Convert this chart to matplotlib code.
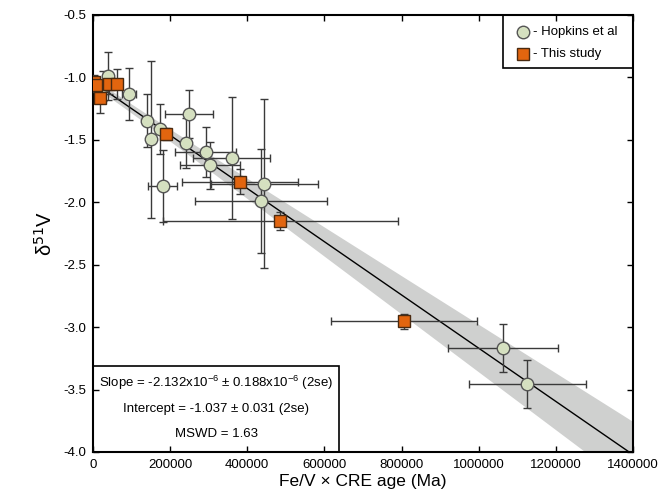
import numpy as np
import matplotlib.pyplot as plt

plt.rcParams['font.family'] = ['Liberation Sans', 'DejaVu Sans']

# Hopkins et al data: x (Fe/V x CRE age), x error, d51V, y error
hop_x = [39700, 26700, 93300, 139000, 149500, 173700, 180700, 248000, 240000,
         292000, 304000, 360000, 444000, 435500, 1063000, 1126000]
hop_xerr = [0, 0, 17000, 0, 0, 0, 37000, 62000, 0,
            80000, 78000, 100000, 138000, 172000, 143000, 151000]
hop_y = [-0.99, -1.07, -1.135, -1.346, -1.495, -1.415, -1.869, -1.293, -1.527,
         -1.594, -1.704, -1.645, -1.85, -1.99, -3.166, -3.454]
hop_yerr = [0.19, 0.12, 0.21, 0.21, 0.63, 0.2, 0.29, 0.19, 0.2,
            0.2, 0.19, 0.49, 0.68, 0.42, 0.19, 0.19]

# This study
ts_x = [3000, 8000, 17000, 41500, 63000, 190000, 382000, 485600, 806000]
ts_xerr = [0, 0, 0, 0, 0, 8000, 150000, 305000, 190000]
ts_y = [-1.04, -1.065, -1.167, -1.055, -1.052, -1.453, -1.835, -2.149, -2.953]
ts_yerr = [0.06, 0.05, 0.12, 0.08, 0.12, 0.05, 0.1, 0.07, 0.06]

# regression
slope = -2.132e-6
slope_err = 0.188e-6
intercept = -1.037
intercept_err = 0.031

xticks = [0, 200000, 400000, 600000, 800000, 1000000, 1200000, 1400000]
yticks = [-4.0, -3.5, -3.0, -2.5, -2.0, -1.5, -1.0, -0.5]

fig = plt.figure(figsize=(6.61, 4.98), dpi=100)
ax = fig.add_axes([0.1407, 0.0924, 0.817, 0.8776])

xs = np.linspace(0, 1400000, 200)
fit = intercept + slope * xs
band = np.sqrt(intercept_err**2 + (slope_err * xs)**2)
ax.fill_between(xs, fit - band, fit + band, color='#cfd0cf', lw=0, zorder=1)
ax.plot(xs, fit, color='black', lw=1, zorder=2)

ax.errorbar(hop_x, hop_y, xerr=hop_xerr, yerr=hop_yerr, fmt='none',
            ecolor='#3a3a3a', elinewidth=1, capsize=3, capthick=1, zorder=3)
ax.errorbar(ts_x, ts_y, xerr=ts_xerr, yerr=ts_yerr, fmt='none',
            ecolor='#3a3a3a', elinewidth=1, capsize=3, capthick=1, zorder=3)
ax.plot(hop_x, hop_y, 'o', ms=9, mfc='#d5e0c0', mec='#555555', mew=1, zorder=4)
ax.plot(ts_x, ts_y, 's', ms=8.5, mfc='#e2650f', mec='#4a2a10', mew=1, zorder=5)

ax.set_xlim(0, 1400000)
ax.set_ylim(-4.0, -0.5)
ax.set_xticks(xticks)
ax.set_xticklabels([str(v) for v in xticks])
ax.set_yticks(yticks)
ax.set_yticklabels([f'{v:.1f}' for v in yticks])
ax.tick_params(direction='in', top=True, right=True, length=4, width=1,
               labelsize=9.5, pad=5)
for s in ax.spines.values():
    s.set_linewidth(1.5)

ax.set_xlabel('Fe/V \u00d7 CRE age (Ma)', fontsize=12.5, labelpad=2)
ax.set_ylabel('\u03b4$^{51}$V', fontsize=14.5, labelpad=5)

# stats box
ax.add_patch(plt.Rectangle((0, -4.0), 638000, 0.69, fill=False,
                           edgecolor='black', lw=1.2, zorder=6))
ax.text(319000, -3.448, 'Slope = -2.132x10$^{\\mathregular{-6}}$ \u00b1 0.188x10$^{\\mathregular{-6}}$ (2se)',
        ha='center', va='center', fontsize=9.5, zorder=7)
ax.text(319000, -3.655, 'Intercept = -1.037 \u00b1 0.031 (2se)',
        ha='center', va='center', fontsize=9.5, zorder=7)
ax.text(319000, -3.856, 'MSWD = 1.63', ha='center', va='center', fontsize=9.5, zorder=7)

# legend box
ax.add_patch(plt.Rectangle((1062000, -0.925), 338000, 0.425, fill=False,
                           edgecolor='black', lw=1.2, zorder=6))
ax.plot([1115000], [-0.635], 'o', ms=9, mfc='#d5e0c0', mec='#555555', mew=1, zorder=7)
ax.text(1140000, -0.635, '- Hopkins et al', va='center', fontsize=9.5, zorder=7)
ax.plot([1115000], [-0.81], 's', ms=8.5, mfc='#e2650f', mec='#4a2a10', mew=1, zorder=7)
ax.text(1140000, -0.81, '- This study', va='center', fontsize=9.5, zorder=7)

fig.savefig('out.png', dpi=100)
